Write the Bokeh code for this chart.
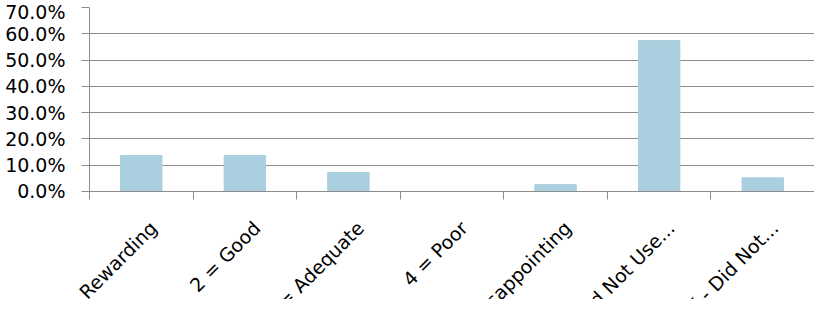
import math
from bokeh.plotting import figure
from bokeh.layouts import column, row
from bokeh.models import FixedTicker, NumeralTickFormatter, Range1d, ColumnDataSource
from bokeh.embed import file_html
from bokeh.resources import INLINE

categories = ["1 = Rewarding", "2 = Good", "3 = Adequate", "4 = Poor",
              "5 = Disappointing", "NA - Did Not Use...", "DK - Did Not..."]
values = [0.137, 0.137, 0.072, 0.0, 0.026, 0.574, 0.052]
y_ticks = [0.0, 0.1, 0.2, 0.3, 0.4, 0.5, 0.6, 0.7]

FONT = "DejaVu Sans"
FSIZE = "19px"
GRAY = "#8c8c8c"
W = 814
LEFT = 89
TOP_H = 201
BOT_H = 299 - TOP_H

n = len(categories)
xs = [i + 0.5 for i in range(n)]
src = ColumnDataSource(dict(x=xs, top=values))

p = figure(width=W, height=TOP_H, output_backend="svg",
           toolbar_location=None, x_range=Range1d(0, n),
           y_range=Range1d(0, 0.7))
p.min_border_left = LEFT
p.min_border_right = 0
p.min_border_top = 7
p.min_border_bottom = 10
p.outline_line_color = None
p.background_fill_color = "white"
p.border_fill_color = "white"

p.vbar(x="x", top="top", bottom=0, width=0.4, source=src,
       fill_color="#AACFDE", line_color="#AACFDE", line_width=1)

# x axis: tick marks at category boundaries, labels drawn in the panel below
xa = p.xaxis[0]
xa.ticker = FixedTicker(ticks=xs, minor_ticks=list(range(n + 1)))
xa.major_label_overrides = {x: "" for x in xs}
xa.major_label_text_font_size = "1px"
xa.major_tick_line_color = None
xa.minor_tick_line_color = GRAY
xa.minor_tick_out = 8
xa.minor_tick_in = 0
xa.axis_line_color = GRAY
xa.major_label_standoff = 0

# y axis
ya = p.yaxis[0]
ya.ticker = FixedTicker(ticks=y_ticks)
ya.formatter = NumeralTickFormatter(format="0.0%")
ya.major_tick_out = 8
ya.major_tick_in = 0
ya.minor_tick_line_color = None
ya.major_tick_line_color = GRAY
ya.axis_line_color = GRAY
ya.major_label_standoff = 16
ya.major_label_text_font = FONT
ya.major_label_text_font_size = FSIZE
ya.major_label_text_color = "#000000"

p.xgrid.grid_line_color = None
p.ygrid.ticker = FixedTicker(ticks=y_ticks)
p.ygrid.grid_line_color = GRAY
p.ygrid.grid_line_width = 1

# label panel: same horizontal scale as the main frame, spanning full width
unit = (W - LEFT) / n
q = figure(width=W, height=BOT_H, output_backend="svg", toolbar_location=None,
           x_range=Range1d(-LEFT / unit, n), y_range=Range1d(-BOT_H, 0),
           x_axis_location=None, y_axis_location=None)
q.min_border = 0
q.min_border_left = 0
q.min_border_right = 0
q.min_border_top = 0
q.min_border_bottom = 0
q.grid.visible = False
q.outline_line_color = None
q.background_fill_color = "white"
q.border_fill_color = "white"
lab_src = ColumnDataSource(dict(x=xs, y=[-23] * n, label=categories))
q.text(x="x", y="y", text="label", source=lab_src, angle=math.pi / 4,
       text_align="right", text_baseline="alphabetic", x_offset=12,
       text_font={"value": FONT}, text_font_size={"value": FSIZE},
       text_color="#000000")

layout = column(p, row(q), spacing=0)
open("out.html", "w").write(file_html(layout, INLINE))
